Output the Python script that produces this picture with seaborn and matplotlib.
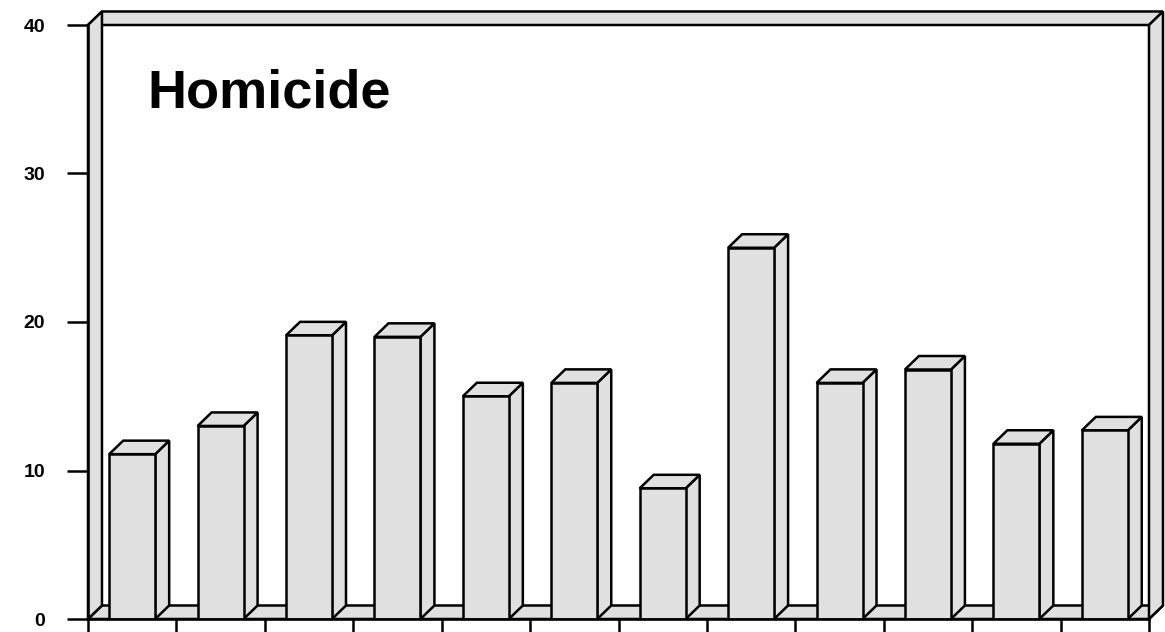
import matplotlib
matplotlib.use('Agg')
import matplotlib.pyplot as plt
from matplotlib.patches import Polygon
import seaborn as sns
import numpy as np
import pandas as pd

# bar values (scan is slightly rotated, corrected by eye)
groups = ['A', 'B', 'C', 'D', 'E', 'F', 'G', 'H', 'I', 'J', 'K', 'L']
rates = [11.1, 13.0, 19.1, 19.0, 15.0, 15.9, 8.8, 25.0, 15.9, 16.8, 11.8, 12.7]
yticks = [0, 10, 20, 30, 40]
title = 'Homicide'

GRAY = '#e0e0e0'
DX, DY = 0.158, 0.91   # 3-d depth offset in data units
LW = 1.8

sns.set_theme(style='white')
plt.rcParams['font.family'] = ['Liberation Sans', 'DejaVu Sans']

fig = plt.figure(figsize=(11.65, 6.32), dpi=100)
ax = fig.add_axes([88 / 1165, 13 / 632, 1061 / 1165, 594 / 632])
ax.set_facecolor('white')

df = pd.DataFrame({'group': groups, 'rate': rates})
sns.barplot(data=df, x='group', y='rate', color=GRAY, saturation=1,
            width=0.52, edgecolor='black', linewidth=LW, ax=ax, zorder=4)

x_lo, x_hi, y_top = -0.5, len(groups) - 0.5, yticks[-1]

def poly(pts, z):
    ax.add_patch(Polygon(pts, closed=True, facecolor=GRAY, edgecolor='black',
                         linewidth=LW, zorder=z, clip_on=False))

# box: floor, top edge, left and right walls
poly([(x_lo, 0), (x_hi, 0), (x_hi + DX, DY), (x_lo + DX, DY)], 1)
poly([(x_lo, y_top), (x_lo + DX, y_top + DY), (x_hi + DX, y_top + DY), (x_hi, y_top)], 1)
poly([(x_lo, 0), (x_lo + DX, DY), (x_lo + DX, y_top + DY), (x_lo, y_top)], 2)
poly([(x_hi, 0), (x_hi + DX, DY), (x_hi + DX, y_top + DY), (x_hi, y_top)], 2)

# side and top faces of each bar
for p in list(ax.patches)[:len(groups)]:
    x0, w, h = p.get_x(), p.get_width(), p.get_height()
    x1 = x0 + w
    poly([(x1, 0), (x1 + DX, DY), (x1 + DX, h + DY), (x1, h)], 3)
    poly([(x0, h), (x0 + DX, h + DY), (x1 + DX, h + DY), (x1, h)], 3)

ax.set_xlim(x_lo, x_hi)
ax.set_ylim(0, y_top)
ax.set_xticks(np.arange(x_lo, x_hi + 0.01, 1))
ax.set_xticklabels([])
ax.set_yticks(yticks)
ax.set_xlabel('')
ax.set_ylabel('')
ax.tick_params(axis='x', direction='out', length=10, width=LW, color='black', bottom=True)
ax.tick_params(axis='y', direction='out', length=15, width=LW, color='black', left=True,
               pad=16, labelsize=14, labelcolor='black')
for t in ax.get_yticklabels():
    t.set_fontweight('bold')

for side in ['top', 'right']:
    ax.spines[side].set_visible(False)
for side in ['left', 'bottom']:
    ax.spines[side].set_color('black')
    ax.spines[side].set_linewidth(LW)
    ax.spines[side].set_zorder(5)

fig.text(147 / 1165, 1 - 107 / 632, title, fontsize=39, fontweight='bold',
         ha='left', va='baseline', color='black')

fig.savefig('out.png', dpi=100)
